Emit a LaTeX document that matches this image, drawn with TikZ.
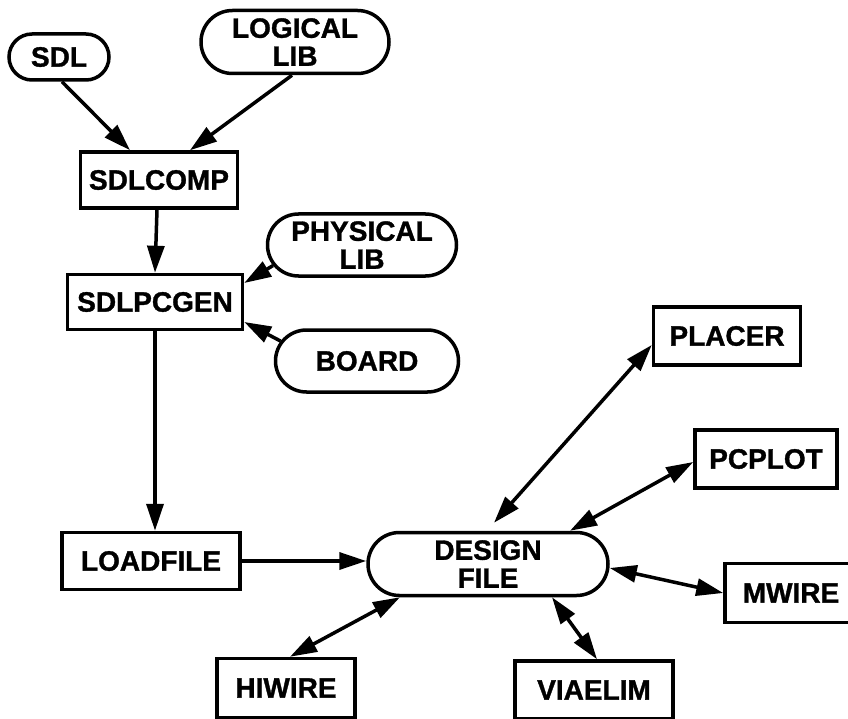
\documentclass[tikz,border=0pt]{standalone}
\usepackage{fontspec}
\setmainfont{Liberation Sans}[BoldFeatures={FakeBold=1.2}]
\usetikzlibrary{arrows.meta,shapes.misc,calc}
\begin{document}
\begin{tikzpicture}[x=1pt,y=-1pt,
  lbl/.style={font=\fontsize{28}{28}\selectfont\bfseries, align=center, inner sep=0pt, line width=3.5pt, draw=black},
  prog/.style={lbl, rectangle},
  data/.style={lbl, rounded rectangle},
  flow/.style={line width=3.5pt, -{Triangle[length=27pt,width=17pt]}},
  both/.style={line width=3.5pt, {Triangle[length=27pt,width=17pt]}-{Triangle[length=27pt,width=17pt]}}
]
\fill[white] (0,0) rectangle (848,719);
\useasboundingbox (0,0) rectangle (848,719);

\node[data, minimum width=100pt, minimum height=46pt] (sdl) at (59,57) {SDL};
\node[data, minimum width=188pt, minimum height=63pt] (logical) at (295,42) {LOGICAL\\LIB};
\node[prog, minimum width=157pt, minimum height=56pt] (sdlcomp) at (159,180) {SDLCOMP};
\node[data, minimum width=189pt, minimum height=62pt] (physical) at (362,245) {PHYSICAL\\LIB};
\node[prog, minimum width=175pt, minimum height=55pt] (sdlpcgen) at (155,302) {SDLPCGEN};
\node[data, minimum width=183pt, minimum height=62pt] (board) at (367,361) {BOARD};
\node[prog, minimum width=147pt, minimum height=58pt] (placer) at (727,336) {PLACER};
\node[prog, minimum width=142pt, minimum height=58pt] (pcplot) at (766,459) {PCPLOT};
\node[prog, minimum width=178pt, minimum height=57pt] (loadfile) at (151,561) {LOADFILE};
\node[data, minimum width=240pt, minimum height=63pt] (design) at (488,564) {DESIGN\\FILE};
\node[prog, minimum width=132pt, minimum height=59pt] (mwire) at (791,593) {MWIRE};
\node[prog, minimum width=138pt, minimum height=59pt] (hiwire) at (286,688) {HIWIRE};
\node[prog, minimum width=158pt, minimum height=58pt] (viaelim) at (594,690) {VIAELIM};

\draw[flow] ([xshift=3pt]sdl.south) -- ([xshift=-29pt]sdlcomp.north);
\draw[flow] ([xshift=-3pt]logical.south) -- ([xshift=31pt]sdlcomp.north);
\draw[flow] ([xshift=-2pt]sdlcomp.south) -- (sdlpcgen.north);
\draw[flow] (physical.193) -- ([yshift=19pt]sdlpcgen.east);
\draw[flow] (board.167) -- ([yshift=-20pt]sdlpcgen.east);
\draw[flow] (sdlpcgen.south) -- (sdlpcgen.south |- loadfile.north);
\draw[flow] (loadfile.east) -- (loadfile.east -| design.west);
\draw[both] ([xshift=6pt,yshift=8pt]design.north) -- ([yshift=-9pt]placer.west);
\draw[both] ([xshift=82pt]design.north) -- ([yshift=-3pt]pcplot.west);
\draw[both] ([yshift=-4pt]design.east) -- (mwire.west);
\draw[both] ([xshift=-88pt]design.south) -- ([xshift=4pt]hiwire.north);
\draw[both] ([xshift=64pt]design.south) -- ([xshift=3pt]viaelim.north);
\end{tikzpicture}
\end{document}
